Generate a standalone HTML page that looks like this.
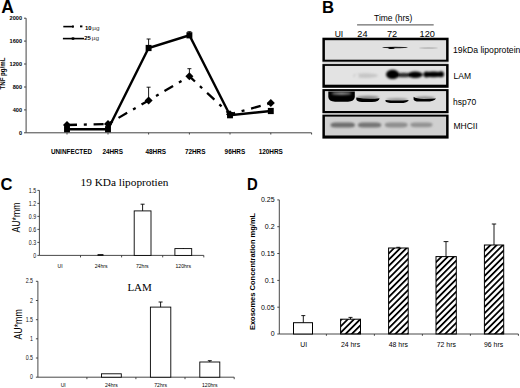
<!DOCTYPE html>
<html><head><meta charset="utf-8">
<style>
html,body{margin:0;padding:0;background:#fff;width:520px;height:388px;overflow:hidden}
svg{display:block}
text{font-family:"Liberation Sans",sans-serif}
.serif{font-family:"Liberation Serif",serif}
</style></head>
<body>
<svg width="520" height="388" viewBox="0 0 520 388">
<defs>
<pattern id="hatch" patternUnits="userSpaceOnUse" width="4.4" height="4.4" patternTransform="rotate(45)">
<rect x="0" y="0" width="1.8" height="4.4" fill="#000"/>
</pattern>
<filter id="b06" x="-50%" y="-200%" width="200%" height="500%"><feGaussianBlur stdDeviation="0.6"/></filter>
<filter id="b07" x="-50%" y="-200%" width="200%" height="500%"><feGaussianBlur stdDeviation="0.7"/></filter>
<filter id="b08" x="-50%" y="-200%" width="200%" height="500%"><feGaussianBlur stdDeviation="0.8"/></filter>
<filter id="b10" x="-50%" y="-200%" width="200%" height="500%"><feGaussianBlur stdDeviation="1.0"/></filter>
</defs>

<!-- ================= PANEL A ================= -->
<g id="A">
<text x="1.2" y="12.6" font-size="17.5" font-weight="bold">A</text>
<!-- y axis -->
<g stroke="#444" stroke-width="1" fill="none">
<line x1="26.1" y1="18.2" x2="26.1" y2="132.8"/>
<line x1="24" y1="18.2" x2="26.1" y2="18.2"/>
<line x1="24" y1="41.1" x2="26.1" y2="41.1"/>
<line x1="24" y1="64.0" x2="26.1" y2="64.0"/>
<line x1="24" y1="87.0" x2="26.1" y2="87.0"/>
<line x1="24" y1="109.9" x2="26.1" y2="109.9"/>
<line x1="24" y1="132.8" x2="26.1" y2="132.8"/>
<line x1="26.1" y1="132.8" x2="311.6" y2="132.8"/>
<line x1="67" y1="132.8" x2="67" y2="134.5"/>
<line x1="108" y1="132.8" x2="108" y2="134.5"/>
<line x1="148.6" y1="132.8" x2="148.6" y2="134.5"/>
<line x1="189.4" y1="132.8" x2="189.4" y2="134.5"/>
<line x1="230" y1="132.8" x2="230" y2="134.5"/>
<line x1="270.8" y1="132.8" x2="270.8" y2="134.5"/>
<line x1="311.6" y1="132.8" x2="311.6" y2="134.5"/>
</g>
<g font-size="5.6" font-weight="bold" text-anchor="end">
<text x="22" y="20.2">2000</text>
<text x="22" y="43.1">1600</text>
<text x="22" y="66.0">1200</text>
<text x="22" y="89.0">800</text>
<text x="22" y="111.9">400</text>
<text x="22" y="134.8">0</text>
</g>
<text transform="translate(5,89.5) rotate(-90)" font-size="6.6" font-weight="bold" textLength="32" lengthAdjust="spacingAndGlyphs">TNF pg/mL</text>
<!-- x labels -->
<g font-size="6.4" font-weight="bold">
<text x="50.9" y="153.9">UNINFECTED</text>
<text x="102.4" y="153.9">24HRS</text>
<text x="145.5" y="153.9">48HRS</text>
<text x="184.9" y="153.9">72HRS</text>
<text x="224.6" y="153.9">96HRS</text>
<text x="258.7" y="153.9">120HRS</text>
</g>
<!-- error bars -->
<g stroke="#000" stroke-width="0.9">
<line x1="148.6" y1="48" x2="148.6" y2="39"/><line x1="146.6" y1="39" x2="150.6" y2="39"/>
<line x1="189.4" y1="35.3" x2="189.4" y2="31.7"/><line x1="187.4" y1="31.7" x2="191.4" y2="31.7"/>
<line x1="148.6" y1="100.4" x2="148.6" y2="87.2"/><line x1="146.6" y1="87.2" x2="150.6" y2="87.2"/>
<line x1="189.4" y1="76.3" x2="189.4" y2="68.7"/><line x1="187.4" y1="68.7" x2="191.4" y2="68.7"/>
</g>
<!-- 25 ug solid -->
<polyline points="67,129.2 108,129.2 148.6,48 189.4,35.3 230,115.2 270.8,111" fill="none" stroke="#000" stroke-width="2.4"/>
<!-- 10 ug dash-dot -->
<polyline points="67,125 108,124 148.6,100.4 189.4,76.3 230,114.3 270.8,103.1" fill="none" stroke="#000" stroke-width="2.3" stroke-dasharray="10 6.8 3 6.8"/>
<!-- square markers -->
<g fill="#000">
<rect x="64.05" y="126.10" width="5.9" height="6.2"/>
<rect x="105.05" y="126.10" width="5.9" height="6.2"/>
<rect x="145.65" y="44.90" width="5.9" height="6.2"/>
<rect x="186.45" y="32.20" width="5.9" height="6.2"/>
<rect x="227.05" y="112.10" width="5.9" height="6.2"/>
<rect x="267.85" y="107.90" width="5.9" height="6.2"/>
</g>
<!-- diamond markers -->
<g fill="#000">
<path d="M67 121.0 L71.0 125 L67 129.0 L63.0 125Z"/>
<path d="M108 120.0 L112.0 124 L108 128.0 L104.0 124Z"/>
<path d="M148.6 96.4 L152.6 100.4 L148.6 104.4 L144.6 100.4Z"/>
<path d="M189.4 72.3 L193.4 76.3 L189.4 80.3 L185.4 76.3Z"/>
<path d="M230 110.3 L234.0 114.3 L230 118.3 L226.0 114.3Z"/>
<path d="M270.8 99.1 L274.8 103.1 L270.8 107.1 L266.8 103.1Z"/>
</g>
<!-- legend -->
<line x1="63.3" y1="26.6" x2="73" y2="26.6" stroke="#000" stroke-width="1.6"/>
<ellipse cx="73" cy="26.6" rx="1" ry="1.3"/>
<line x1="80" y1="26.4" x2="82.4" y2="26.4" stroke="#000" stroke-width="1.9"/>
<line x1="62.9" y1="38.6" x2="84.1" y2="38.6" stroke="#000" stroke-width="1.6"/>
<ellipse cx="73" cy="38.6" rx="1.7" ry="1.3"/>
<text x="84.9" y="29.8" font-size="5.9" font-weight="bold">10</text>
<text x="92.3" y="29.8" font-size="5.9" fill="#333" textLength="7.2" lengthAdjust="spacingAndGlyphs">µg</text>
<text x="84.3" y="40.4" font-size="5.9" font-weight="bold">25</text>
<text x="91.8" y="40.4" font-size="5.9" fill="#333" textLength="7.2" lengthAdjust="spacingAndGlyphs">µg</text>
</g>

<!-- ================= PANEL B ================= -->
<g id="B">
<text x="322" y="12.7" font-size="16.8" font-weight="bold">B</text>
<text x="374" y="21.1" font-size="8.5">Time (hrs)</text>
<line x1="357.1" y1="24.9" x2="433.7" y2="24.9" stroke="#333" stroke-width="0.9"/>
<g font-size="8.5">
<text x="334.7" y="37">UI</text>
<text x="357.3" y="37" font-size="9.2">24</text>
<text x="386.9" y="37" font-size="9.2">72</text>
<text x="419.6" y="37" font-size="9.2">120</text>
<text x="453" y="52.5" textLength="67.4" lengthAdjust="spacingAndGlyphs">19kDa lipoprotein</text>
<text x="453.5" y="78.7">LAM</text>
<text x="453" y="104.5">hsp70</text>
<text x="453.5" y="129.4">MHCII</text>
</g>
<!-- boxes -->
<rect x="322.4" y="61.5" width="126.2" height="2.8" fill="#d6d6d6"/>
<rect x="322.4" y="112.8" width="126.2" height="2.2" fill="#bdbdbd"/>
<g fill="#000">
<rect x="322.4" y="37.7" width="126.2" height="24"/>
<rect x="322.4" y="64.1" width="126.2" height="23.7"/>
<rect x="322.4" y="89.1" width="126.2" height="23.9"/>
<rect x="322.4" y="114.8" width="126.2" height="23.8"/>
</g>
<rect x="324.9" y="40.2" width="121.2" height="19.5" fill="#e1e1e1"/>
<rect x="324.9" y="65.9" width="121.2" height="18.8" fill="#e3e3e3"/>
<rect x="324.9" y="91.1" width="121.2" height="19.9" fill="#dddddd"/>
<rect x="324.9" y="116.6" width="121.2" height="18.9" fill="#d0d0d0"/>
<!-- bands -->
<g filter="url(#b06)">
<ellipse cx="395" cy="47.5" rx="12.8" ry="0.75" fill="#222"/>
<ellipse cx="391.5" cy="48" rx="3.2" ry="1.1" fill="#000"/>
<ellipse cx="428.5" cy="48" rx="9.5" ry="0.8" fill="#b4b4b4"/>
</g>
<g filter="url(#b08)">
<ellipse cx="365.5" cy="75.6" rx="12.5" ry="2.3" fill="#c6c6c6"/>
<ellipse cx="357" cy="75.8" rx="1.8" ry="1.4" fill="#ececec"/>
<ellipse cx="403.5" cy="75" rx="8" ry="2.3" fill="#2a2a2a"/>
<ellipse cx="392.6" cy="74.4" rx="6.6" ry="4.6" fill="#000"/>
<ellipse cx="415.2" cy="74.7" rx="7.5" ry="3.2" fill="#000"/>
<ellipse cx="433.5" cy="74.4" rx="10" ry="2.8" fill="#000"/>
<ellipse cx="441" cy="74.2" rx="3" ry="3" fill="#000"/>
<ellipse cx="426.5" cy="74.5" rx="3" ry="3" fill="#000"/>
</g>
<g filter="url(#b10)">
<ellipse cx="368" cy="97.6" rx="11" ry="1.8" fill="#888"/>
<ellipse cx="397" cy="99.6" rx="11" ry="1.5" fill="#999"/>
<ellipse cx="425" cy="98" rx="10" ry="1.4" fill="#888"/>
</g>
<g filter="url(#b07)">
<path d="M328.3 91.4 L354.8 91.4 L354.8 97 Q354.2 101.6 348 101.7 L335 101.7 Q328.8 101.6 328.3 97Z" fill="#000"/>
<path d="M356.3 97.6 Q368 99.6 379.6 98.2 Q379.2 101.8 372 101.9 L362 101.9 Q357 101.7 356.3 99.5Z" fill="#000"/>
<path d="M385.5 99.9 Q397 100.9 408.8 99.9 Q407.8 103 400 103.1 L393 103.1 Q386.5 102.9 385.5 101.2Z" fill="#000"/>
<path d="M413.6 96.8 Q416 98.8 424 98.9 Q430 98.9 436 98.5 Q434.5 101.6 426 101.6 L419 101.6 Q414 101.4 413.6 99.5Z" fill="#000"/>
</g>
<g filter="url(#b10)">
<ellipse cx="341.5" cy="93.5" rx="10" ry="1.4" fill="#8c8c8c"/>
</g>
<g filter="url(#b08)">
<rect x="330.5" y="122.6" width="24.5" height="5" rx="5" ry="2.5" fill="#6e6e6e"/>
<rect x="357.8" y="122.6" width="23.5" height="5" rx="5" ry="2.5" fill="#747474"/>
<rect x="384.8" y="122.6" width="22.8" height="4.8" rx="5" ry="2.4" fill="#8e8e8e"/>
<rect x="410.3" y="122.4" width="22.2" height="4.8" rx="5" ry="2.4" fill="#939393"/>
</g>
</g>

<!-- ================= PANEL C ================= -->
<g id="C">
<text x="0.6" y="190" font-size="16.6" font-weight="bold">C</text>
<text x="80.6" y="186.1" font-size="11.4" class="serif" textLength="87.8" lengthAdjust="spacingAndGlyphs">19 KDa lipoprotien</text>
<text x="127.4" y="291.4" font-size="11" class="serif">LAM</text>
<!-- top chart axes -->
<g stroke="#333" stroke-width="0.9" fill="none">
<line x1="39.4" y1="190.4" x2="39.4" y2="255.4"/>
<line x1="37.4" y1="190.4" x2="39.4" y2="190.4"/>
<line x1="37.4" y1="203.4" x2="39.4" y2="203.4"/>
<line x1="37.4" y1="216.4" x2="39.4" y2="216.4"/>
<line x1="37.4" y1="229.4" x2="39.4" y2="229.4"/>
<line x1="37.4" y1="242.4" x2="39.4" y2="242.4"/>
<line x1="37.4" y1="255.4" x2="39.4" y2="255.4"/>
<line x1="39.4" y1="255.4" x2="203.8" y2="255.4"/>
<line x1="80.5" y1="255.4" x2="80.5" y2="257.4"/>
<line x1="121.6" y1="255.4" x2="121.6" y2="257.4"/>
<line x1="162.7" y1="255.4" x2="162.7" y2="257.4"/>
<line x1="203.8" y1="255.4" x2="203.8" y2="257.4"/>
</g>
<g font-size="6.3" text-anchor="end" fill="#111" transform="translate(36.2,0) scale(0.84,1)">
<text x="0" y="192.6">1.5</text>
<text x="0" y="205.6">1.2</text>
<text x="0" y="218.6">0.9</text>
<text x="0" y="231.6">0.6</text>
<text x="0" y="244.6">0.3</text>
<text x="0" y="257.6">0</text>
</g>
<text transform="translate(20.3,232.6) rotate(-90)" font-size="10.2" textLength="30" lengthAdjust="spacingAndGlyphs">AU*mm</text>
<g font-size="5.1" text-anchor="middle" fill="#000">
<text x="60" y="268">UI</text>
<text x="101.1" y="268">24hrs</text>
<text x="142.3" y="268">72hrs</text>
<text x="183.3" y="268">120hrs</text>
</g>
<g fill="#fff" stroke="#000" stroke-width="0.9">
<rect x="134.2" y="210.9" width="16.8" height="44.5"/>
<rect x="174.9" y="248.6" width="16.8" height="6.8"/>
<rect x="98" y="254.6" width="5" height="0.8"/>
</g>
<g stroke="#000" stroke-width="0.9">
<line x1="142.6" y1="210.9" x2="142.6" y2="204.2"/><line x1="140.6" y1="204.2" x2="144.6" y2="204.2"/>
<line x1="183.3" y1="248.6" x2="183.3" y2="248"/>
</g>
<!-- bottom chart axes -->
<g stroke="#333" stroke-width="0.9" fill="none">
<line x1="37.9" y1="281.3" x2="37.9" y2="377.2"/>
<line x1="35.9" y1="281.3" x2="37.9" y2="281.3"/>
<line x1="35.9" y1="300.5" x2="37.9" y2="300.5"/>
<line x1="35.9" y1="319.7" x2="37.9" y2="319.7"/>
<line x1="35.9" y1="338.8" x2="37.9" y2="338.8"/>
<line x1="35.9" y1="358" x2="37.9" y2="358"/>
<line x1="35.9" y1="377.2" x2="37.9" y2="377.2"/>
<line x1="37.9" y1="377.2" x2="234.2" y2="377.2"/>
<line x1="86.9" y1="377.2" x2="86.9" y2="379.2"/>
<line x1="135.9" y1="377.2" x2="135.9" y2="379.2"/>
<line x1="185" y1="377.2" x2="185" y2="379.2"/>
<line x1="234.2" y1="377.2" x2="234.2" y2="379.2"/>
</g>
<g font-size="6.3" text-anchor="end" fill="#111" transform="translate(33,0) scale(0.84,1)">
<text x="0" y="283.5">2.5</text>
<text x="0" y="302.7">2</text>
<text x="0" y="321.9">1.5</text>
<text x="0" y="341">1</text>
<text x="0" y="360.2">0.5</text>
<text x="0" y="379.4">0</text>
</g>
<text transform="translate(22.3,339.5) rotate(-90)" font-size="10.4" textLength="30.2" lengthAdjust="spacingAndGlyphs">AU*mm</text>
<g font-size="5.1" text-anchor="middle" fill="#000">
<text x="63.2" y="387">UI</text>
<text x="111.4" y="387">24hrs</text>
<text x="160.6" y="387">72hrs</text>
<text x="209.8" y="387">120hrs</text>
</g>
<g fill="#fff" stroke="#000" stroke-width="0.9">
<rect x="101.5" y="373.8" width="19.8" height="3.4"/>
<rect x="150.4" y="307.1" width="20.4" height="70.1"/>
<rect x="199.8" y="362" width="20" height="15.2"/>
</g>
<g stroke="#000" stroke-width="0.9">
<line x1="160.6" y1="307.1" x2="160.6" y2="302"/><line x1="158.6" y1="302" x2="162.6" y2="302"/>
<line x1="209.8" y1="362" x2="209.8" y2="360.7"/><line x1="207.8" y1="360.7" x2="211.8" y2="360.7"/>
</g>
</g>

<!-- ================= PANEL D ================= -->
<g id="D">
<text transform="translate(246.9,190.3) scale(0.88,1)" font-size="16.9" font-weight="bold">D</text>
<g stroke="#333" stroke-width="0.9" fill="none">
<line x1="279.3" y1="199.9" x2="279.3" y2="334"/>
<line x1="277.3" y1="199.9" x2="279.3" y2="199.9"/>
<line x1="277.3" y1="226.7" x2="279.3" y2="226.7"/>
<line x1="277.3" y1="253.5" x2="279.3" y2="253.5"/>
<line x1="277.3" y1="280.4" x2="279.3" y2="280.4"/>
<line x1="277.3" y1="307.2" x2="279.3" y2="307.2"/>
<line x1="277.3" y1="334" x2="279.3" y2="334"/>
<line x1="279.3" y1="334" x2="518.4" y2="334"/>
<line x1="326.4" y1="334" x2="326.4" y2="335.8"/>
<line x1="374.4" y1="334" x2="374.4" y2="335.8"/>
<line x1="422.4" y1="334" x2="422.4" y2="335.8"/>
<line x1="470.4" y1="334" x2="470.4" y2="335.8"/>
<line x1="518.4" y1="334" x2="518.4" y2="335.8"/>
</g>
<g font-size="7" text-anchor="end">
<text x="274.6" y="202.2">0.25</text>
<text x="274.6" y="229">0.2</text>
<text x="274.6" y="255.8">0.15</text>
<text x="274.6" y="282.7">0.1</text>
<text x="274.6" y="309.5">0.05</text>
<text x="274.6" y="336.3">0</text>
</g>
<text transform="translate(254.6,330.1) rotate(-90)" font-size="6.3" font-weight="bold" textLength="117.3" lengthAdjust="spacingAndGlyphs">Exosomes Concentration mg/mL</text>
<g font-size="6.9" text-anchor="middle">
<text x="303.8" y="347">UI</text>
<text x="350.5" y="347">24 hrs</text>
<text x="398.3" y="347">48 hrs</text>
<text x="446.3" y="347">72 hrs</text>
<text x="493.6" y="347">96 hrs</text>
</g>
<g stroke="#000" stroke-width="1">
<rect x="293.5" y="322.7" width="19" height="11.3" fill="#fff"/>
<rect x="340.6" y="319.2" width="19.9" height="14.8" fill="url(#hatch)"/>
<rect x="388.6" y="248" width="19.6" height="86" fill="url(#hatch)"/>
<rect x="436" y="256.6" width="20.3" height="77.4" fill="url(#hatch)"/>
<rect x="484.4" y="245" width="19.3" height="89" fill="url(#hatch)"/>
</g>
<g stroke="#000" stroke-width="0.9">
<line x1="303.3" y1="322.7" x2="303.3" y2="315.6"/><line x1="301.3" y1="315.6" x2="305.3" y2="315.6"/>
<line x1="350.5" y1="319.2" x2="350.5" y2="317.4"/><line x1="348.5" y1="317.4" x2="352.5" y2="317.4"/>
<line x1="398.3" y1="248" x2="398.3" y2="247.3"/><line x1="396.3" y1="247.3" x2="400.3" y2="247.3"/>
<line x1="446" y1="256.6" x2="446" y2="241.6"/><line x1="443.6" y1="241.6" x2="448.4" y2="241.6"/>
<line x1="494" y1="245" x2="494" y2="224"/><line x1="491.8" y1="224" x2="496.2" y2="224"/>
</g>
</g>
</svg>
</body></html>
